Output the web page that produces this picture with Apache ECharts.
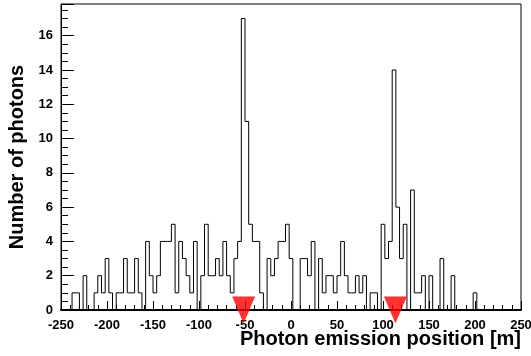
<!DOCTYPE html>
<html>
<head>
<meta charset="utf-8">
<script src="https://cdn.jsdelivr.net/npm/echarts@6/dist/echarts.min.js"></script>
<style>
html,body{margin:0;padding:0;background:#fff;}
#c{width:531px;height:356px;}
</style>
</head>
<body>
<div id="c"></div>
<script>
// Histogram definition
const histMin = -250;
const histMax = 250;
const binWidth = 4;
// counts per bin (125 bins of 4 m from -250 to 250)
const binCounts = [
  0,0,0,1,1,0,2,0,0,1,
  2,1,3,1,0,1,1,3,1,1,
  3,1,0,4,2,1,2,4,4,4,
  5,1,4,3,2,1,4,0,2,5,
  2,2,3,2,4,2,1,3,4,17,
  11,5,4,4,1,0,3,2,3,4,
  4,5,3,0,0,3,3,2,4,0,
  3,1,2,2,1,2,4,2,1,1,
  2,1,2,0,1,1,0,5,3,4,
  14,6,3,5,0,7,1,1,2,0,
  2,0,0,3,0,0,2,0,0,0,
  0,0,1,0,0,0,0,0,0,0,
  0,0,0,0,0
];
// red marker positions [m]
const markerPositions = [-51.5, 113.5];
// axis ticks
const xTickLabels = [-250,-200,-150,-100,-50,0,50,100,150,200,250];
const yTickLabels = [0,2,4,6,8,10,12,14,16];
const yMax = 17.85;
const xTitle = 'Photon emission position [m]';
const yTitle = 'Number of photons';

const stepData = binCounts.map((v, k) => [histMin + k * binWidth, v]);
stepData.push([histMax, 0]);

const FONT = '"Liberation Sans", Arial, Helvetica, sans-serif';

const chart = echarts.init(document.getElementById('c'), null, {renderer: 'canvas'});
chart.setOption({
  animation: false,
  backgroundColor: '#ffffff',
  grid: {
    left: 61, right: 10, top: 4, bottom: 46,
    containLabel: false,
    outerBoundsMode: 'none',
    show: true, borderColor: '#000', borderWidth: 1, backgroundColor: 'transparent'
  },
  graphic: [{
    type: 'text',
    right: 10,
    top: 329,
    style: {
      text: xTitle,
      fill: '#000',
      font: 'bold 20px ' + FONT
    }
  }],
  xAxis: {
    type: 'value',
    min: xTickLabels[0],
    max: xTickLabels[xTickLabels.length - 1],
    interval: xTickLabels[1] - xTickLabels[0],
    axisLine: {show: true, onZero: false, lineStyle: {color: '#000', width: 2}},
    axisTick: {show: true, inside: true, length: 9, lineStyle: {color: '#000'}},
    minorTick: {show: true, splitNumber: 5, length: 5, lineStyle: {color: '#000'}},
    splitLine: {show: false},
    axisLabel: {
      margin: 9, color: '#000', fontFamily: FONT, fontWeight: 'bold', fontSize: 13,
      showMinLabel: true, showMaxLabel: true
    }
  },
  yAxis: {
    type: 'value',
    min: yTickLabels[0],
    max: yMax,
    interval: yTickLabels[1] - yTickLabels[0],
    axisLine: {show: true, onZero: false, lineStyle: {color: '#000', width: 1}},
    axisTick: {show: true, inside: true, length: 13, lineStyle: {color: '#000'}},
    minorTick: {show: true, splitNumber: 4, length: 7, lineStyle: {color: '#000'}},
    splitLine: {show: false},
    axisLabel: {
      margin: 8, color: '#000', fontFamily: FONT, fontWeight: 'bold', fontSize: 13,
      showMaxLabel: false
    },
    name: yTitle,
    nameLocation: 'middle',
    nameGap: 34,
    nameRotate: 90,
    nameTextStyle: {color: '#000', fontFamily: FONT, fontWeight: 'bold', fontSize: 20}
  },
  series: [
    {
      type: 'line',
      step: 'end',
      data: stepData,
      showSymbol: false,
      symbol: 'none',
      lineStyle: {color: '#000', width: 1},
      clip: true,
      z: 3
    },
    {
      type: 'scatter',
      data: markerPositions.map(x => [x, 0]),
      symbol: 'triangle',
      symbolRotate: 180,
      symbolSize: [23, 27],
      itemStyle: {color: '#ff0000'},
      clip: false,
      z: 10
    }
  ]
});
</script>
</body>
</html>
